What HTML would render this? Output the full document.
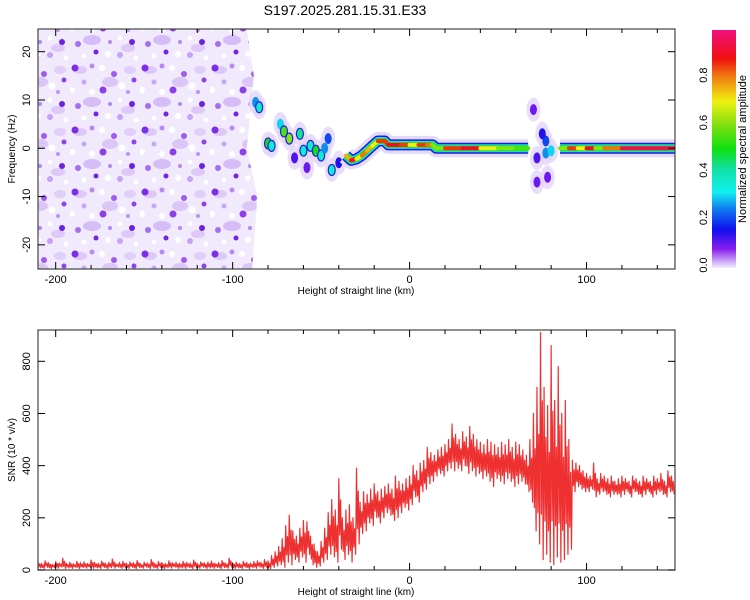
<!DOCTYPE html>
<html><head><meta charset="utf-8">
<style>
body{margin:0;background:#fff;width:750px;height:600px;overflow:hidden}
svg{display:block;font-family:"Liberation Sans",sans-serif}
</style></head>
<body>
<svg id="c" width="750" height="600" viewBox="0 0 750 600">
<defs>
<linearGradient id="cb" x1="0" y1="1" x2="0" y2="0">
<stop offset="0" stop-color="#f4eeff"/><stop offset="0.03" stop-color="#c9a4f5"/>
<stop offset="0.08" stop-color="#8a1cf0"/><stop offset="0.16" stop-color="#1010ee"/>
<stop offset="0.24" stop-color="#1070f0"/><stop offset="0.32" stop-color="#10f0f0"/>
<stop offset="0.42" stop-color="#10e0a0"/><stop offset="0.5" stop-color="#10e010"/>
<stop offset="0.6" stop-color="#80e010"/><stop offset="0.7" stop-color="#f0f010"/>
<stop offset="0.8" stop-color="#f08010"/><stop offset="0.88" stop-color="#f01010"/>
<stop offset="1" stop-color="#f01080"/>
</linearGradient>
<pattern id="noise" width="70" height="62" patternUnits="userSpaceOnUse">
<rect width="70" height="62" fill="#f1e9fc"/>
<ellipse cx="10" cy="8" rx="7" ry="4" fill="#ddc8f8"/><ellipse cx="40" cy="20" rx="8" ry="5" fill="#dcc6f8"/>
<ellipse cx="22" cy="40" rx="9" ry="5" fill="#d6bdf7"/><ellipse cx="58" cy="48" rx="7" ry="4" fill="#ddc8f8"/>
<ellipse cx="60" cy="8" rx="6" ry="4" fill="#e0cff9"/>
<circle cx="5" cy="6" r="3.5" fill="#7a2ee6"/><circle cx="22" cy="4" r="2.5" fill="#b68af2"/>
<circle cx="44" cy="12" r="3" fill="#9c5cef"/><circle cx="14" cy="20" r="2.5" fill="#c8a6f6"/>
<circle cx="33" cy="28" r="3.5" fill="#8c3eeb"/><circle cx="58" cy="30" r="2" fill="#b994f3"/>
<circle cx="8" cy="44" r="3" fill="#a270f0"/><circle cx="26" cy="52" r="2.5" fill="#7025e4"/>
<circle cx="50" cy="55" r="3" fill="#c5a2f6"/><circle cx="64" cy="18" r="2.5" fill="#8a45ea"/>
<circle cx="62" cy="42" r="3" fill="#6c22e2"/><circle cx="40" cy="42" r="2" fill="#b28af2"/>
<circle cx="2" cy="28" r="3" fill="#fff"/><circle cx="22" cy="30" r="3" fill="#fff"/>
<circle cx="32" cy="6" r="3" fill="#fff"/><circle cx="52" cy="24" r="3.5" fill="#fff"/>
<circle cx="38" cy="54" r="3" fill="#fff"/><circle cx="14" cy="56" r="2.5" fill="#fff"/>
<circle cx="66" cy="58" r="2.5" fill="#fff"/><circle cx="50" cy="38" r="2.5" fill="#fff"/>
</pattern>
<clipPath id="clipTop"><rect x="38" y="29" width="637" height="240"/></clipPath>
<clipPath id="clipBot"><rect x="38" y="330" width="637" height="240"/></clipPath>
</defs>
<text x="345" y="15" font-size="14" text-anchor="middle">S197.2025.281.15.31.E33</text>
<g id="topPanel"></g>
<g id="botPanel"></g>
<g id="cbar"></g>
</svg>
<script>
const NS="http://www.w3.org/2000/svg";
// ---------- data ----------
const xTicks=[-200,-100,0,100];
const fTicks=[-20,-10,0,10,20];
const snrTicks=[0,200,400,600,800];
const cbTicks=[0.0,0.2,0.4,0.6,0.8];
const snrStartKm=-210;
const snrStepKm=2;
const snrHi=[30,25,35,28,22,32,27,45,26,30,24,33,28,31,25,38,29,26,34,27,30,42,25,29,33,26,31,28,36,24,30,27,40,26,32,29,25,35,28,30,26,33,29,27,38,25,31,28,30,34,26,29,36,27,45,28,30,25,33,29,27,32,35,30,
40,35,55,70,90,120,170,210,150,130,160,190,185,130,100,70,110,160,220,270,230,350,200,230,250,200,390,260,300,290,310,330,300,310,320,330,310,360,340,330,350,
360,400,380,410,420,470,450,440,460,470,480,500,560,520,500,530,510,550,520,500,490,480,500,490,480,470,490,480,500,470,490,480,460,440,500,
600,700,910,700,630,860,650,780,600,650,500,
420,410,400,380,370,360,410,350,370,360,350,360,340,350,360,350,340,360,350,340,360,350,340,360,350,370,340,380,360];
const snrLo=[8,6,10,5,9,7,11,6,8,6,10,5,9,7,11,6,8,6,10,5,9,7,11,6,8,6,10,5,9,7,11,6,8,6,10,5,9,7,11,6,8,6,10,5,9,7,11,6,8,6,10,5,9,7,11,6,8,6,10,5,9,7,11,6,
8,5,10,15,20,10,30,20,40,30,50,30,60,20,10,15,30,40,60,50,30,80,40,60,30,60,100,140,150,180,170,200,180,200,220,210,190,200,220,240,230,
250,280,260,300,310,330,340,360,370,360,380,390,380,390,380,400,370,380,360,370,350,360,340,320,350,340,330,350,340,320,330,340,330,300,260,
150,100,40,60,30,20,50,30,40,60,80,
300,320,310,300,300,310,280,290,300,290,280,290,290,280,290,300,280,300,290,280,290,300,280,290,300,290,280,300,290];
const ridgeKm=[-36,-33,-30,-27,-24,-21,-18,-14,-12,-5,0,5,10,13,15,20,30,40,50,60,67];
const ridgeHz=[-1.5,-2.5,-2.2,-1.5,-0.5,0.5,1.5,1.5,0.7,0.7,0.7,0.7,0.7,0.7,0,0,0,0,0,0,0];
const ridgeAmp=[0.75,0.9,0.7,0.8,0.75,0.7,0.85,0.85,0.9,0.85,0.7,0.85,0.8,0.6,0.6,0.85,0.9,0.7,0.6,0.55,0.5];
const ridge2Km=[85,90,95,100,105,110,120,150];
const ridge2Hz=[0,0,0,0,0,0,0,0];
const ridge2Amp=[0.6,0.85,0.7,0.9,0.6,0.8,0.95,0.95];
const blobKm=[-87,-85,-80,-78,-73,-71,-68,-62,-60,-56,-53,-50,-44,-46,77,77,80,72,70,75,-40,-65,-58,72,78,-48];
const blobHz=[9.5,8.5,1,0.5,5,3.5,2,3,-0.5,0.5,-0.5,-1.5,-4.5,2,1.5,-1,-0.5,-7,8,3,-3,-2,-4,-2,-6,0];
const blobAmp=[0.25,0.35,0.5,0.35,0.3,0.55,0.6,0.4,0.35,0.35,0.5,0.35,0.35,0.2,0.2,0.25,0.3,0.1,0.1,0.15,0.15,0.12,0.1,0.12,0.1,0.25];
// ---------- scales ----------
const X0=38,X1=675,KM0=-210,KM1=150;
const xs=k=>X0+(k-KM0)/(KM1-KM0)*(X1-X0);
const TY0=29,TY1=269,F0=-25,F1=24.7;
const fy=f=>TY1-(f-F0)/(F1-F0)*(TY1-TY0);
const BY0=330,BY1=570,S1=920;
const sy=v=>BY1-v/S1*(BY1-BY0);
const CB0=265,CBT=30;
const cy=a=>CB0-a/0.99*(CB0-CBT);
function col(a){
 const st=[[0,[233,220,251]],[0.08,[138,28,240]],[0.16,[16,16,238]],[0.32,[16,240,240]],[0.5,[16,224,16]],[0.7,[240,240,16]],[0.88,[240,16,16]],[1,[240,16,128]]];
 for(let i=1;i<st.length;i++){if(a<=st[i][0]){const t=(a-st[i-1][0])/(st[i][0]-st[i-1][0]);const c=st[i-1][1].map((v,j)=>Math.round(v+(st[i][1][j]-v)*t));return `rgb(${c})`;}}
 return "rgb(240,16,128)";
}
function el(tag,attrs,parent){const e=document.createElementNS(NS,tag);for(const k in attrs)e.setAttribute(k,attrs[k]);parent.appendChild(e);return e;}
const topG=document.getElementById('topPanel'),botG=document.getElementById('botPanel'),cbarG=document.getElementById('cbar');
// ---------- top panel ----------
const gT=el('g',{'clip-path':'url(#clipTop)'},topG);
const nz=el('path',{d:`M${X0},${TY0}H${xs(-92)}L${xs(-88)},${fy(15)}L${xs(-92)},${fy(0)}L${xs(-86)},${fy(-10)}L${xs(-89)},${TY1}H${X0}Z`,fill:'url(#noise)'},gT);


for(let i=0;i<blobKm.length;i++){
 const h=el('ellipse',{cx:xs(blobKm[i]),cy:fy(blobHz[i]),rx:7,ry:12,fill:'#e3d4fa',opacity:0.8},gT);
 
 
}
for(let i=0;i<blobKm.length;i++){
 const b=el('ellipse',{cx:xs(blobKm[i]),cy:fy(blobHz[i]),rx:3.5,ry:5.5,fill:col(blobAmp[i]),stroke:'#2020e0','stroke-width':blobAmp[i]>0.3?1.2:0},gT);
 
 
}
function drawRidge(km,hz,amp,name){
 const pts=km.map((k,i)=>xs(k)+','+fy(hz[i])).join(' ');
 const h=el('polyline',{points:pts,fill:'none',stroke:'#e6dafb','stroke-width':18,'stroke-linejoin':'round'},gT);
 
 
 const o=el('polyline',{points:pts,fill:'none',stroke:'#1818e8','stroke-width':11,'stroke-linejoin':'round'},gT);
 
 
 const c=el('polyline',{points:pts,fill:'none',stroke:'#10e8e8','stroke-width':8,'stroke-linejoin':'round'},gT);
 
 
 const g=el('polyline',{points:pts,fill:'none',stroke:'#20e020','stroke-width':6,'stroke-linejoin':'round'},gT);
 
 
 for(let i=0;i<km.length-1;i++){
  const s=el('line',{x1:xs(km[i]),y1:fy(hz[i]),x2:xs(km[i+1]),y2:fy(hz[i+1]),stroke:col(amp[i]),'stroke-width':4,'stroke-linecap':'round'},gT);
  
  
 }
}
drawRidge(ridgeKm,ridgeHz,ridgeAmp,'ridge-main');
drawRidge(ridge2Km,ridge2Hz,ridge2Amp,'ridge-tail');
function frame(y0,y1,yt,ysc,title,parent){
 const f=el('rect',{x:X0,y:y0,width:X1-X0,height:y1-y0,fill:'none',stroke:'#444','stroke-width':1.2},parent);
 
 
 for(let k=-200;k<=150;k+=20){
  const l=(k%100===0)?7:4;
  el('line',{x1:xs(k),y1:y1,x2:xs(k),y2:y1-l,stroke:'#000'},parent);
  el('line',{x1:xs(k),y1:y0,x2:xs(k),y2:y0+l,stroke:'#000'},parent);
 }
 xTicks.forEach(k=>{const t=el('text',{x:xs(k),y:y1+14,'font-size':11,'text-anchor':'middle'},parent);t.textContent=k;
  
  });
 const xt=el('text',{x:356,y:y1+25,'font-size':10,'text-anchor':'middle'},parent);xt.textContent='Height of straight line (km)';
 
 
 yt.forEach(v=>{
  const yy=ysc(v);
  el('line',{x1:X0,y1:yy,x2:X0+7,y2:yy,stroke:'#000'},parent);
  el('line',{x1:X1,y1:yy,x2:X1-7,y2:yy,stroke:'#000'},parent);
  const t=el('text',{x:0,y:0,'font-size':11,'text-anchor':'middle',transform:`translate(30,${yy}) rotate(-90)`},parent);t.textContent=v;
  
  
 });
 const ytl=el('text',{x:0,y:0,'font-size':10,'text-anchor':'middle',transform:`translate(15,${(y0+y1)/2}) rotate(-90)`},parent);ytl.textContent=title;
 
 
}
frame(TY0,TY1,fTicks,fy,'Frequency (Hz)',topG);
// ---------- bottom panel ----------
const gB=el('g',{'clip-path':'url(#clipBot)'},botG);
let d='';
for(let i=0;i<snrHi.length;i++){
 const k=snrStartKm+i*snrStepKm;
 const h=snrHi[i],l=snrLo[i];
 d+=(i?'L':'M')+xs(k)+','+sy(h)
   +'L'+xs(k+0.5)+','+sy(l+(h-l)*0.2)
   +'L'+xs(k+1)+','+sy(l+(h-l)*0.7)
   +'L'+xs(k+1.5)+','+sy(l);
}
const ln=el('path',{d:d,fill:'none',stroke:'#ee3030','stroke-width':1.2,'stroke-linejoin':'round'},gB);


frame(BY0,BY1,snrTicks,sy,'SNR (10 * v/v)',botG);
// ---------- colorbar ----------
const cbr=el('rect',{x:712,y:CBT,width:24,height:238,fill:'url(#cb)'},cbarG);


cbTicks.forEach(v=>{
 const t=el('text',{x:0,y:0,'font-size':11,'text-anchor':'middle',transform:`translate(707,${cy(v)}) rotate(-90)`},cbarG);t.textContent=v.toFixed(1);
 
 
});
const ct=el('text',{x:0,y:0,'font-size':11,'text-anchor':'middle',transform:'translate(746,149) rotate(-90)'},cbarG);ct.textContent='Normalized spectral amplitude';


</script>
</body></html>
